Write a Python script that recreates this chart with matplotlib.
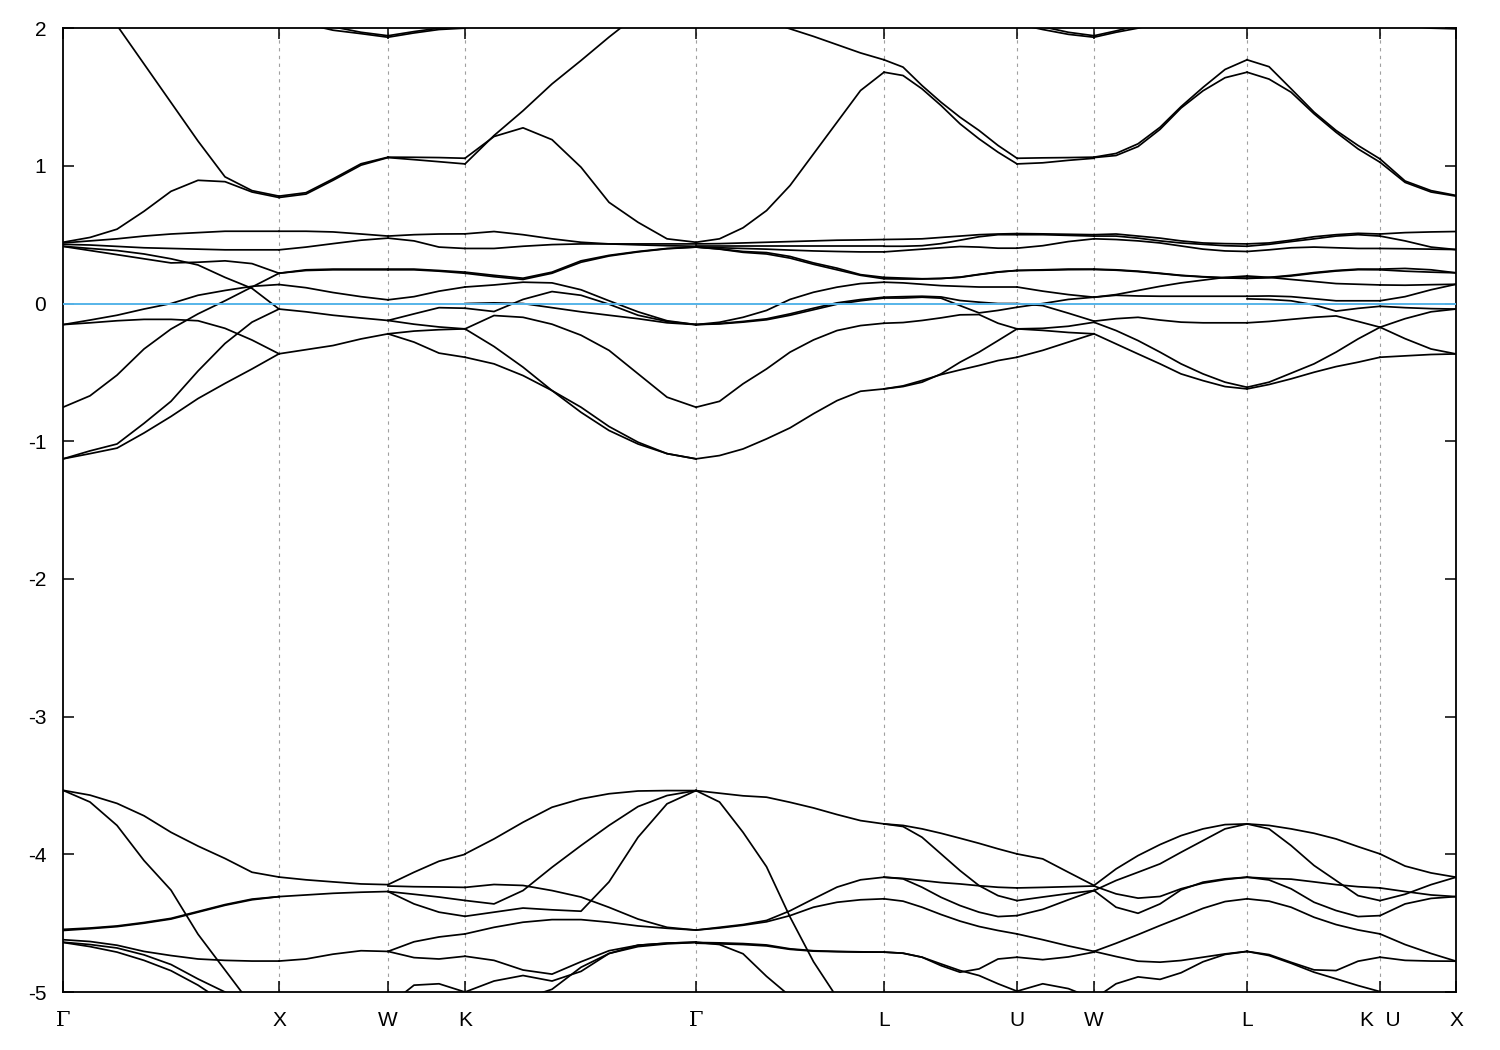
import numpy as np
import matplotlib.pyplot as plt

plt.rcParams['font.family'] = ['Liberation Sans', 'DejaVu Sans']
plt.rcParams['axes.unicode_minus'] = False

nan = np.nan

# high-symmetry points along the path
sym_k = [0.0, 2.16, 3.25, 4.02, 6.33, 8.21, 9.54, 10.31, 11.84, 13.17, 13.93]
sym_labels = ['Γ', 'X', 'W', 'K', 'Γ', 'L', 'U', 'W', 'L', 'K  U', 'X']

# ---- Gamma -> X
k_GX = [0.0, 0.27, 0.54, 0.81, 1.08, 1.35, 1.62, 1.89, 2.16]
GX = [
    [nan, nan, 2.02, 1.74, 1.46, 1.18, 0.92, 0.82, 0.78],
    [0.445, 0.48, 0.54, 0.67, 0.815, 0.895, 0.885, 0.81, 0.77],
    [0.44, 0.455, 0.47, 0.49, 0.505, 0.515, 0.525, 0.525, 0.525],
    [0.43, 0.425, 0.415, 0.405, 0.40, 0.395, 0.39, 0.39, 0.39],
    [0.415, 0.385, 0.355, 0.325, 0.295, 0.30, 0.31, 0.29, 0.22],
    [0.416, 0.40, 0.385, 0.36, 0.325, 0.28, 0.19, 0.11, -0.04],
    [-0.153, -0.12, -0.085, -0.04, 0.0, 0.06, 0.095, 0.125, 0.138],
    [-0.153, -0.14, -0.125, -0.115, -0.115, -0.125, -0.18, -0.265, -0.365],
    [-0.753, -0.67, -0.52, -0.33, -0.185, -0.075, 0.02, 0.12, 0.22],
    [-1.128, -1.07, -1.02, -0.87, -0.71, -0.49, -0.29, -0.135, -0.04],
    [-1.128, -1.09, -1.05, -0.94, -0.82, -0.69, -0.58, -0.475, -0.365],
    [-3.535, -3.57, -3.63, -3.72, -3.84, -3.94, -4.03, -4.13, -4.165],
    [-3.535, -3.62, -3.79, -4.045, -4.26, -4.58, -4.84, -5.1, nan],
    [-4.553, -4.54, -4.525, -4.50, -4.47, -4.42, -4.37, -4.33, -4.307],
    [-4.545, -4.535, -4.52, -4.495, -4.465, -4.415, -4.365, -4.325, -4.307],
    [-4.62, -4.633, -4.66, -4.705, -4.735, -4.76, -4.77, -4.775, -4.775],
    [-4.638, -4.655, -4.68, -4.73, -4.80, -4.905, -5.0, -5.1, nan],
    [-4.64, -4.67, -4.71, -4.77, -4.845, -4.95, -5.08, nan, nan],
]

# ---- X -> W
k_XW = [2.16, 2.43, 2.70, 2.98, 3.25]
XW = [
    [0.78, 0.805, 0.905, 1.015, 1.063],
    [0.77, 0.795, 0.895, 1.005, 1.06],
    [nan, 2.03, 1.985, 1.96, 1.934],
    [nan, nan, 2.01, 1.97, 1.945],
    [0.525, 0.525, 0.52, 0.505, 0.49],
    [0.39, 0.41, 0.435, 0.46, 0.475],
    [0.22, 0.245, 0.25, 0.25, 0.25],
    [0.22, 0.24, 0.245, 0.245, 0.245],
    [0.138, 0.115, 0.08, 0.05, 0.027],
    [-0.04, -0.06, -0.085, -0.105, -0.123],
    [-0.365, -0.335, -0.305, -0.257, -0.22],
    [-4.165, -4.185, -4.2, -4.215, -4.22],
    [-4.307, -4.295, -4.283, -4.275, -4.27],
    [-4.775, -4.76, -4.725, -4.70, -4.705],
]

# ---- W -> K
k_WK = [3.25, 3.51, 3.76, 4.02]
WK = [
    [1.063, 1.062, 1.06, 1.055],
    [1.06, 1.045, 1.03, 1.014],
    [1.934, 1.965, 1.99, 2.0],
    [1.945, 1.975, 2.0, 2.02],
    [0.49, 0.50, 0.505, 0.506],
    [0.475, 0.455, 0.41, 0.40],
    [0.25, 0.25, 0.24, 0.228],
    [0.245, 0.245, 0.235, 0.22],
    [0.027, 0.05, 0.09, 0.12],
    [-0.123, -0.075, -0.03, -0.034],
    [-0.123, -0.15, -0.17, -0.184],
    [-0.22, -0.2, -0.19, -0.184],
    [-0.22, -0.28, -0.36, -0.39],
    [-4.22, -4.13, -4.05, -4.0],
    [-4.23, -4.235, -4.237, -4.24],
    [-4.27, -4.29, -4.31, -4.335],
    [-4.27, -4.36, -4.42, -4.45],
    [-4.705, -4.635, -4.60, -4.578],
    [-4.705, -4.75, -4.76, -4.74],
    [-5.1, -4.95, -4.94, -5.0],
]

# ---- K -> Gamma
k_KG = [4.02, 4.31, 4.60, 4.89, 5.18, 5.46, 5.75, 6.04, 6.33]
KG = [
    [1.014, 1.22, 1.40, 1.595, 1.765, 1.935, 2.1, nan, nan],
    [1.055, 1.213, 1.276, 1.19, 0.99, 0.735, 0.59, 0.47, 0.445],
    [0.506, 0.523, 0.50, 0.47, 0.445, 0.433, 0.426, 0.42, 0.416],
    [0.40, 0.40, 0.416, 0.428, 0.433, 0.433, 0.433, 0.433, 0.433],
    [0.228, 0.205, 0.184, 0.228, 0.31, 0.35, 0.378, 0.40, 0.41],
    [0.22, 0.195, 0.175, 0.22, 0.30, 0.345, 0.375, 0.398, 0.41],
    [0.12, 0.135, 0.155, 0.15, 0.10, 0.02, -0.06, -0.125, -0.153],
    [-0.034, -0.058, 0.03, 0.087, 0.06, -0.005, -0.085, -0.13, -0.153],
    [0.0, 0.005, 0.0, -0.03, -0.06, -0.085, -0.11, -0.14, -0.153],
    [-0.184, -0.087, -0.10, -0.15, -0.23, -0.34, -0.51, -0.68, -0.753],
    [-0.184, -0.312, -0.462, -0.632, -0.79, -0.922, -1.02, -1.09, -1.128],
    [-0.39, -0.438, -0.523, -0.632, -0.753, -0.893, -1.007, -1.09, -1.128],
    [-3.997, -3.888, -3.767, -3.658, -3.597, -3.56, -3.54, -3.537, -3.537],
    [-4.335, -4.36, -4.263, -4.094, -3.936, -3.79, -3.653, -3.573, -3.537],
    [-4.24, -4.219, -4.226, -4.263, -4.31, -4.385, -4.47, -4.53, -4.55],
    [-4.45, -4.42, -4.39, -4.403, -4.413, -4.2, -3.876, -3.633, -3.537],
    [-4.578, -4.53, -4.493, -4.474, -4.474, -4.493, -4.52, -4.537, -4.55],
    [-4.74, -4.77, -4.84, -4.87, -4.78, -4.70, -4.66, -4.645, -4.638],
    [-5.0, -4.92, -4.88, -4.92, -4.85, -4.72, -4.66, -4.645, -4.638],
    [nan, nan, -5.05, -4.98, -4.82, -4.72, -4.67, -4.65, -4.64],
]

# ---- Gamma -> L
k_GL = [6.33, 6.565, 6.80, 7.035, 7.27, 7.505, 7.74, 7.975, 8.21]
GL = [
    [0.445, 0.47, 0.55, 0.675, 0.857, 1.087, 1.317, 1.547, 1.68],
    [nan, nan, 2.15, 2.05, 1.995, 1.94, 1.88, 1.82, 1.77],
    [0.433, 0.435, 0.44, 0.445, 0.45, 0.455, 0.46, 0.462, 0.465],
    [0.416, 0.416, 0.416, 0.416, 0.416, 0.416, 0.416, 0.416, 0.416],
    [0.41, 0.405, 0.40, 0.395, 0.388, 0.382, 0.378, 0.375, 0.375],
    [0.41, 0.397, 0.378, 0.37, 0.342, 0.295, 0.257, 0.21, 0.19],
    [0.41, 0.395, 0.372, 0.36, 0.33, 0.285, 0.245, 0.205, 0.18],
    [-0.153, -0.136, -0.10, -0.05, 0.03, 0.082, 0.119, 0.145, 0.155],
    [-0.153, -0.145, -0.13, -0.111, -0.075, -0.034, 0.005, 0.029, 0.046],
    [-0.153, -0.148, -0.135, -0.118, -0.085, -0.045, -0.005, 0.02, 0.04],
    [-0.753, -0.71, -0.583, -0.475, -0.353, -0.264, -0.196, -0.16, -0.143],
    [-1.128, -1.104, -1.056, -0.983, -0.903, -0.80, -0.705, -0.637, -0.62],
    [-3.537, -3.556, -3.575, -3.585, -3.622, -3.663, -3.711, -3.755, -3.779],
    [-3.537, -3.62, -3.84, -4.09, -4.455, -4.78, -5.04, nan, nan],
    [-4.638, -4.655, -4.722, -4.886, -5.03, nan, nan, nan, nan],
    [-4.55, -4.53, -4.51, -4.48, -4.41, -4.323, -4.238, -4.185, -4.166],
    [-4.55, -4.535, -4.515, -4.49, -4.445, -4.384, -4.348, -4.33, -4.323],
    [-4.64, -4.643, -4.648, -4.658, -4.686, -4.70, -4.705, -4.708, -4.71],
    [-4.645, -4.65, -4.655, -4.665, -4.69, -4.703, -4.707, -4.71, -4.71],
]

# ---- L -> U
k_LU = [8.21, 8.40, 8.59, 8.78, 8.97, 9.16, 9.35, 9.54]
LU = [
    [1.77, 1.717, 1.583, 1.462, 1.353, 1.257, 1.148, 1.055],
    [1.68, 1.656, 1.559, 1.438, 1.305, 1.196, 1.099, 1.014],
    [0.465, 0.467, 0.47, 0.48, 0.49, 0.50, 0.505, 0.508],
    [0.416, 0.416, 0.42, 0.435, 0.46, 0.485, 0.50, 0.50],
    [0.375, 0.385, 0.395, 0.405, 0.414, 0.41, 0.402, 0.402],
    [0.19, 0.185, 0.18, 0.182, 0.19, 0.21, 0.228, 0.24],
    [0.18, 0.178, 0.178, 0.182, 0.192, 0.212, 0.23, 0.24],
    [0.155, 0.15, 0.14, 0.13, 0.125, 0.12, 0.12, 0.12],
    [0.046, 0.05, 0.053, 0.048, 0.022, 0.01, 0.0, 0.0],
    [0.04, 0.04, 0.046, 0.039, -0.015, -0.068, -0.05, -0.027],
    [-0.143, -0.138, -0.123, -0.104, -0.082, -0.08, -0.143, -0.184],
    [-0.62, -0.603, -0.571, -0.511, -0.426, -0.353, -0.269, -0.184],
    [-0.62, -0.598, -0.559, -0.516, -0.482, -0.45, -0.414, -0.39],
    [-3.779, -3.79, -3.815, -3.847, -3.883, -3.92, -3.96, -3.997],
    [-3.779, -3.798, -3.876, -3.997, -4.118, -4.227, -4.30, -4.336],
    [-4.166, -4.175, -4.19, -4.205, -4.215, -4.228, -4.239, -4.244],
    [-4.166, -4.178, -4.239, -4.312, -4.372, -4.42, -4.452, -4.445],
    [-4.323, -4.34, -4.384, -4.437, -4.485, -4.524, -4.553, -4.578],
    [-4.71, -4.718, -4.747, -4.808, -4.856, -4.832, -4.76, -4.747],
    [-4.71, -4.718, -4.747, -4.796, -4.844, -4.88, -4.94, -4.994],
]

# ---- U -> W
k_UW = [9.54, 9.797, 10.053, 10.31]
UW = [
    [1.055, 1.058, 1.06, 1.063],
    [1.014, 1.022, 1.04, 1.055],
    [2.03, 1.99, 1.955, 1.934],
    [nan, 2.01, 1.97, 1.945],
    [0.508, 0.506, 0.503, 0.50],
    [0.50, 0.50, 0.495, 0.49],
    [0.402, 0.42, 0.45, 0.47],
    [0.24, 0.245, 0.25, 0.25],
    [0.24, 0.242, 0.246, 0.247],
    [0.12, 0.09, 0.065, 0.046],
    [0.0, -0.015, -0.07, -0.128],
    [-0.027, 0.0, 0.03, 0.046],
    [-0.184, -0.18, -0.165, -0.136],
    [-0.184, -0.195, -0.21, -0.22],
    [-0.39, -0.34, -0.28, -0.22],
    [-3.997, -4.033, -4.13, -4.226],
    [-4.244, -4.24, -4.235, -4.23],
    [-4.336, -4.31, -4.285, -4.263],
    [-4.445, -4.4, -4.33, -4.263],
    [-4.578, -4.62, -4.665, -4.705],
    [-4.747, -4.765, -4.745, -4.71],
    [-4.994, -4.94, -4.975, -5.05],
]

# ---- W -> L
k_WL = [10.31, 10.53, 10.75, 10.97, 11.18, 11.40, 11.62, 11.84]
WL = [
    [1.063, 1.09, 1.16, 1.28, 1.43, 1.57, 1.70, 1.77],
    [1.06, 1.075, 1.14, 1.265, 1.42, 1.545, 1.64, 1.68],
    [1.934, 1.97, 2.0, 2.04, nan, nan, nan, nan],
    [1.945, 1.98, 2.02, nan, nan, nan, nan, nan],
    [0.50, 0.505, 0.49, 0.475, 0.455, 0.44, 0.435, 0.433],
    [0.49, 0.49, 0.475, 0.455, 0.44, 0.43, 0.42, 0.416],
    [0.47, 0.465, 0.455, 0.44, 0.418, 0.395, 0.382, 0.378],
    [0.25, 0.245, 0.235, 0.22, 0.205, 0.195, 0.188, 0.184],
    [0.247, 0.242, 0.232, 0.218, 0.203, 0.193, 0.186, 0.182],
    [0.046, 0.065, 0.095, 0.125, 0.15, 0.17, 0.19, 0.2],
    [0.046, 0.06, 0.055, 0.053, 0.053, 0.053, 0.053, 0.053],
    [-0.128, -0.11, -0.1, -0.12, -0.135, -0.14, -0.14, -0.14],
    [-0.22, -0.293, -0.366, -0.438, -0.511, -0.56, -0.603, -0.62],
    [-0.136, -0.196, -0.269, -0.353, -0.438, -0.511, -0.571, -0.608],
    [-4.226, -4.106, -4.009, -3.929, -3.864, -3.815, -3.784, -3.779],
    [-4.263, -4.19, -4.13, -4.069, -3.985, -3.90, -3.815, -3.779],
    [-4.263, -4.384, -4.428, -4.36, -4.258, -4.202, -4.178, -4.166],
    [-4.23, -4.287, -4.318, -4.306, -4.25, -4.209, -4.183, -4.166],
    [-4.705, -4.646, -4.583, -4.517, -4.457, -4.392, -4.343, -4.323],
    [-4.705, -4.742, -4.776, -4.783, -4.771, -4.747, -4.723, -4.705],
    [-5.05, -4.94, -4.89, -4.908, -4.86, -4.78, -4.727, -4.705],
]

# ---- L -> K
k_LK = [11.84, 12.06, 12.28, 12.51, 12.73, 12.95, 13.17]
LK = [
    [1.77, 1.72, 1.56, 1.39, 1.257, 1.148, 1.05],
    [1.68, 1.63, 1.535, 1.378, 1.244, 1.123, 1.026],
    [0.433, 0.44, 0.46, 0.485, 0.50, 0.51, 0.505],
    [0.416, 0.43, 0.45, 0.47, 0.49, 0.50, 0.49],
    [0.378, 0.39, 0.405, 0.41, 0.405, 0.40, 0.40],
    [0.184, 0.19, 0.205, 0.225, 0.24, 0.25, 0.25],
    [0.182, 0.188, 0.2, 0.22, 0.236, 0.246, 0.245],
    [0.2, 0.19, 0.175, 0.16, 0.145, 0.14, 0.135],
    [0.053, 0.055, 0.05, 0.035, 0.02, 0.02, 0.02],
    [0.034, 0.03, 0.02, -0.01, -0.055, -0.035, -0.02],
    [-0.14, -0.13, -0.115, -0.1, -0.09, -0.13, -0.172],
    [-0.608, -0.571, -0.506, -0.438, -0.353, -0.257, -0.172],
    [-0.62, -0.588, -0.547, -0.499, -0.458, -0.426, -0.39],
    [-3.779, -3.79, -3.815, -3.847, -3.888, -3.944, -3.997],
    [-3.779, -3.815, -3.936, -4.081, -4.19, -4.30, -4.336],
    [-4.166, -4.175, -4.18, -4.2, -4.22, -4.235, -4.244],
    [-4.166, -4.186, -4.25, -4.348, -4.408, -4.452, -4.445],
    [-4.323, -4.34, -4.384, -4.457, -4.51, -4.549, -4.578],
    [-4.705, -4.735, -4.791, -4.856, -4.904, -4.953, -4.997],
    [-4.705, -4.728, -4.784, -4.839, -4.844, -4.776, -4.747],
]

# ---- U -> X
k_UX = [13.17, 13.42, 13.68, 13.93]
UX = [
    [1.05, 0.89, 0.82, 0.785],
    [1.026, 0.88, 0.81, 0.78],
    [nan, 2.02, 2.0, 1.995],
    [0.505, 0.515, 0.52, 0.523],
    [0.49, 0.455, 0.41, 0.392],
    [0.40, 0.398, 0.395, 0.392],
    [0.25, 0.255, 0.245, 0.223],
    [0.245, 0.235, 0.228, 0.223],
    [0.135, 0.133, 0.137, 0.14],
    [0.02, 0.05, 0.1, 0.14],
    [-0.02, -0.03, -0.037, -0.04],
    [-0.172, -0.11, -0.06, -0.04],
    [-0.172, -0.255, -0.33, -0.366],
    [-0.39, -0.38, -0.37, -0.366],
    [-3.997, -4.085, -4.135, -4.166],
    [-4.336, -4.29, -4.22, -4.166],
    [-4.244, -4.27, -4.295, -4.307],
    [-4.445, -4.36, -4.32, -4.307],
    [-4.578, -4.655, -4.72, -4.776],
    [-4.747, -4.77, -4.775, -4.776],
]

segments = [(k_GX, GX), (k_XW, XW), (k_WK, WK), (k_KG, KG), (k_GL, GL),
            (k_LU, LU), (k_UW, UW), (k_WL, WL), (k_LK, LK), (k_UX, UX)]

fig = plt.figure(figsize=(15, 10.5), dpi=100)
ax = fig.add_axes([0.042, 0.0552, 0.9287, 0.918])

for k, bands in segments:
    for e in bands:
        ax.plot(k, e, color='black', lw=1.25, zorder=2)

# dashed lines at the inner high-symmetry points
for kx in sym_k[1:-1]:
    ax.axvline(kx, color='#a0a0a0', lw=0.8, ls=(0, (3, 4)), zorder=1)

# Fermi level
ax.axhline(0, color='#56b4e9', lw=1.4, zorder=3)

ax.set_xlim(sym_k[0], sym_k[-1])
ax.set_ylim(-5, 2)
ax.set_xticks(sym_k)
ax.set_xticklabels(sym_labels)
ax.set_yticks(range(-5, 3))
ax.tick_params(direction='in', length=8, width=1.1, top=True, right=True,
               labelsize=15)
ax.tick_params(axis='x', pad=14)
ax.tick_params(axis='y', pad=12)
for lbl in ax.get_xticklabels():
    if lbl.get_text() == 'Γ':
        lbl.set_family('DejaVu Serif')
for s in ax.spines.values():
    s.set_linewidth(1.3)

fig.savefig('out.png', dpi=100)
